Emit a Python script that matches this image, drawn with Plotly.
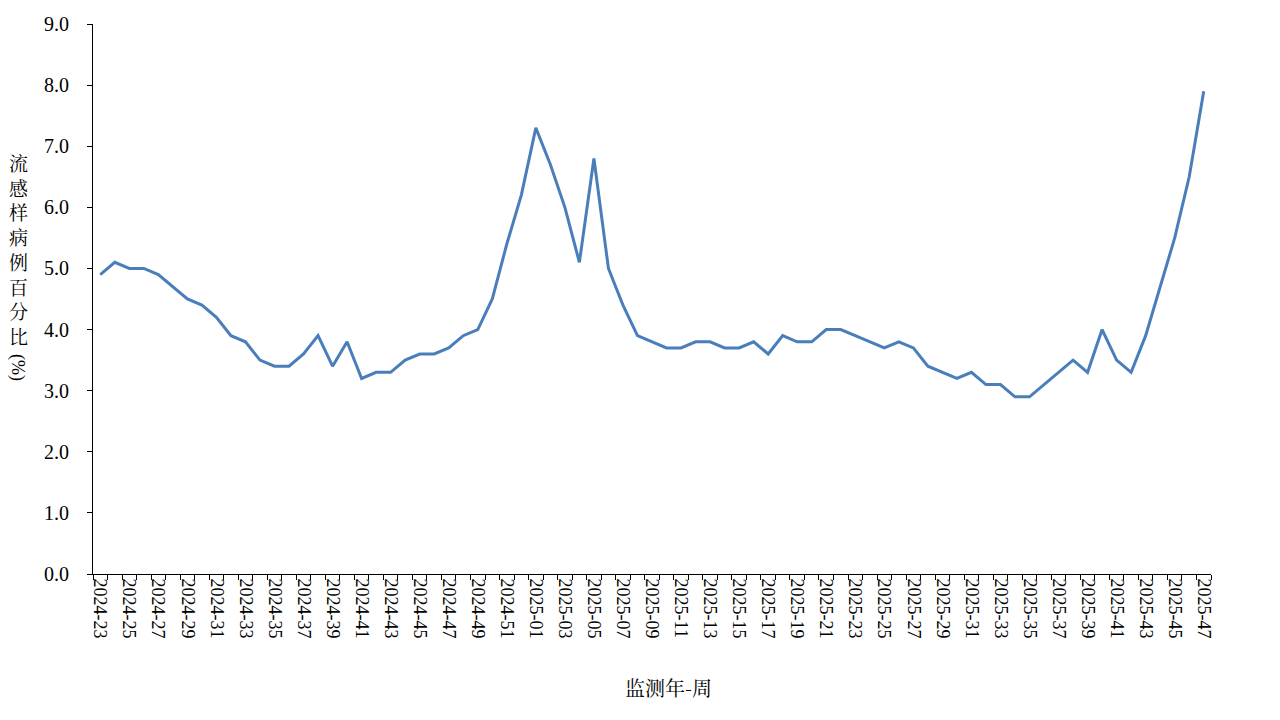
import plotly.graph_objects as go

weeks_2024 = [f"2024-{w:02d}" for w in range(23, 53)]
weeks_2025 = [f"2025-{w:02d}" for w in range(1, 48)]
categories = weeks_2024 + weeks_2025

values = [
    4.9, 5.1, 5.0, 5.0, 4.9, 4.7, 4.5, 4.4, 4.2, 3.9,
    3.8, 3.5, 3.4, 3.4, 3.6, 3.9, 3.4, 3.8, 3.2, 3.3,
    3.3, 3.5, 3.6, 3.6, 3.7, 3.9, 4.0, 4.5, 5.4, 6.2,
    7.3, 6.7, 6.0, 5.1, 6.8, 5.0, 4.4, 3.9, 3.8, 3.7,
    3.7, 3.8, 3.8, 3.7, 3.7, 3.8, 3.6, 3.9, 3.8, 3.8,
    4.0, 4.0, 3.9, 3.8, 3.7, 3.8, 3.7, 3.4, 3.3, 3.2,
    3.3, 3.1, 3.1, 2.9, 2.9, 3.1, 3.3, 3.5, 3.3, 4.0,
    3.5, 3.3, 3.9, 4.7, 5.5, 6.5, 7.9,
]

tick_text = [c if i % 2 == 0 else "" for i, c in enumerate(categories)]

y_title_chars = "流感样病例百分比"
y_title_unit = "(%)"
x_title = "监测年-周"

SERIF = "Liberation Serif"
CJK = "Noto Serif CJK SC"

fig = go.Figure()
fig.add_trace(go.Scatter(
    x=categories, y=values, mode="lines",
    line=dict(color="#4A7EBB", width=3),
    showlegend=False, hoverinfo="x+y",
))

fig.update_layout(
    width=1280, height=720,
    margin=dict(l=93, r=69, t=24, b=146),
    plot_bgcolor="white", paper_bgcolor="white",
    font=dict(family=SERIF, color="black"),
)
fig.update_xaxes(
    type="category", range=[-0.5, len(categories) - 0.5],
    tickmode="array", tickvals=categories, ticktext=tick_text,
    tickson="boundaries", ticks="outside", ticklen=5, tickcolor="black",
    tickangle=90, tickfont=dict(family=SERIF, size=18, color="black"),
    showline=True, linecolor="black", linewidth=1, showgrid=False, zeroline=False,
)
fig.update_yaxes(
    range=[0, 9], dtick=1, tickformat=".1f",
    ticks="outside", ticklen=5, tickcolor="black",
    tickfont=dict(family=SERIF, size=20, color="black"),
    ticklabelstandoff=14,
    showline=True, linecolor="black", linewidth=1, showgrid=False, zeroline=False,
)

fig.add_annotation(
    text="<br>".join(y_title_chars), xref="paper", yref="paper",
    x=(18 - 93) / 1118, y=0.591, xanchor="center", yanchor="middle",
    showarrow=False, font=dict(family=CJK, size=19, color="black"),
)
fig.add_annotation(
    text=y_title_unit, xref="paper", yref="paper", textangle=90,
    x=(18 - 93) / 1118, y=(574 - 367) / 550, xanchor="center", yanchor="middle",
    showarrow=False, font=dict(family=SERIF, size=18, color="black"),
)
fig.add_annotation(
    text=x_title, xref="paper", yref="paper",
    x=0.515, y=(574 - 687) / 550, xanchor="center", yanchor="middle",
    showarrow=False, font=dict(family=CJK, size=20, color="black"),
)

fig.write_html(
    "out.html",
    config={"displayModeBar": False},
    post_script="document.body.style.margin='0';",
)
